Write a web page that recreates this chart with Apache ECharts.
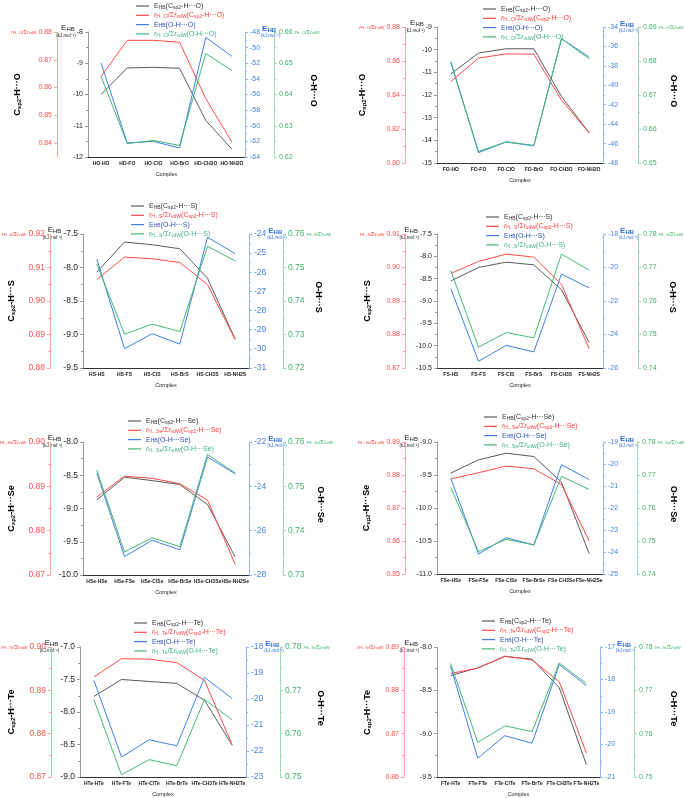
<!DOCTYPE html>
<html><head><meta charset="utf-8">
<script src="https://cdn.jsdelivr.net/npm/echarts@6/dist/echarts.min.js"></script>
<style>html,body{margin:0;padding:0;background:#fff}#c{width:685px;height:798px}</style>
</head><body><div id="c"></div>
<script>
// ---------------- DATA ----------------
const catHO = ['HO-HO','HO-FO','HO-ClO','HO-BrO','HO-CH3O','HO-NH2O'];
const ehbC_HO = [-10.00,-9.15,-9.13,-9.16,-10.83,-11.75];
const rC_HO = [0.8640,0.8770,0.8770,0.8763,0.8560,0.8404];
const ehbO_HO = [-51.97,-62.20,-62.00,-62.85,-48.70,-51.10];
const rO_HO = [0.6458,0.6243,0.6253,0.6237,0.6531,0.6477];
const axesHO = [[-12,-8,1],[0.835,0.88,0.01],[-64,-48,2],[0.62,0.66,0.01]];

const catFO = ['FO-HO','FO-FO','FO-ClO','FO-BrO','FO-CH3O','FO-NH2O'];
const ehbC_FO = [-11.07,-10.15,-9.96,-9.96,-12.07,-13.67];
const rC_FO = [0.8479,0.8617,0.8642,0.8640,0.8370,0.8177];
const ehbO_FO = [-37.55,-46.93,-45.83,-46.24,-35.20,-37.10];
const rO_FO = [0.6794,0.6534,0.6562,0.6552,0.6866,0.6806];
const axesFO = [[-15,-9,1],[0.80,0.88,0.02],[-48,-34,2],[0.65,0.69,0.01]];

const catHS = ['HS-HS','HS-FS','HS-ClS','HS-BrS','HS-CH3S','HS-NH2S'];
const ehbC_HS = [-8.07,-7.62,-7.66,-7.72,-8.16,-9.07];
const rC_HS = [0.9064,0.9131,0.9126,0.9115,0.9049,0.8885];
const ehbO_HS = [-25.31,-29.99,-29.21,-29.75,-24.17,-25.03];
const rO_HS = [0.7510,0.7301,0.7331,0.7309,0.7563,0.7520];
const axesHS = [[-9.5,-7.5,0.5],[0.88,0.92,0.01],[-31,-24,1],[0.72,0.76,0.01]];

const catFS = ['FS-HS','FS-FS','FS-ClS','FS-BrS','FS-CH3S','FS-NH2S'];
const ehbC_FS = [-8.55,-8.25,-8.13,-8.19,-8.75,-9.93];
const rC_FS = [0.8982,0.9018,0.9040,0.9031,0.8949,0.8757];
const ehbO_FS = [-21.26,-25.60,-24.65,-25.04,-20.39,-21.22];
const rO_FS = [0.7691,0.7462,0.7506,0.7490,0.7740,0.7692];
const axesFS = [[-10.5,-7.5,0.5],[0.87,0.91,0.01],[-26,-18,2],[0.74,0.78,0.01]];

const catHSe = ['HSe-HSe','HSe-FSe','HSe-ClSe','HSe-BrSe','HSe-CH3Se','HSe-NH2Se'];
const ehbC_HSe = [-8.87,-8.53,-8.58,-8.64,-8.94,-9.73];
const rC_HSe = [0.8876,0.8923,0.8918,0.8906,0.8869,0.8724];
const ehbO_HSe = [-23.40,-27.17,-26.43,-26.87,-22.68,-23.43];
const rO_HSe = [0.7536,0.7352,0.7384,0.7364,0.7572,0.7530];
const axesHSe = [[-10,-8,0.5],[0.87,0.90,0.01],[-28,-22,2],[0.73,0.76,0.01]];

const catFSe = ['FSe-HSe','FSe-FSe','FSe-ClSe','FSe-BrSe','FSe-CH3Se','FSe-NH2Se'];
const ehbC_FSe = [-9.47,-9.27,-9.17,-9.22,-9.61,-10.69];
const rC_FSe = [0.8788,0.8807,0.8827,0.8819,0.8771,0.8600];
const ehbO_FSe = [-20.66,-24.09,-23.35,-23.68,-20.03,-20.71];
const rO_FSe = [0.7662,0.7468,0.7505,0.7488,0.7696,0.7656];
const axesFSe = [[-11,-9,0.5],[0.85,0.89,0.01],[-25,-19,1],[0.74,0.78,0.01]];

const catHTe = ['HTe-HTe','HTe-FTe','HTe-ClTe','HTe-BrTe','HTe-CH3Te','HTe-NH2Te'];
const ehbC_HTe = [-7.76,-7.50,-7.53,-7.56,-7.82,-8.51];
const rC_HTe = [0.8931,0.8973,0.8972,0.8964,0.8923,0.8774];
const ehbO_HTe = [-19.28,-22.23,-21.57,-21.80,-19.17,-19.98];
const rO_HTe = [0.7679,0.7505,0.7540,0.7526,0.7679,0.7632];
const axesHTe = [[-9,-7,0.5],[0.87,0.90,0.01],[-23,-18,1],[0.75,0.78,0.01]];

const catFTe = ['FTe-HTe','FTe-FTe','FTe-ClTe','FTe-BrTe','FTe-CH3Te','FTe-NH2Te'];
const ehbC_FTe = [-8.33,-8.24,-8.11,-8.14,-8.47,-9.36];
const rC_FTe = [0.8839,0.8851,0.8879,0.8870,0.8820,0.8655];
const ehbO_FTe = [-17.59,-20.42,-19.73,-19.96,-17.54,-18.19];
const rO_FTe = [0.7762,0.7580,0.7618,0.7605,0.7763,0.7716];
const axesFTe = [[-9.5,-8,0.5],[0.86,0.89,0.01],[-21,-17,1],[0.75,0.78,0.01]];

// ---------------- PANELS ----------------
const panels = [
  {X:'O',  cats:catHO,  s:[ehbC_HO, rC_HO, ehbO_HO, rO_HO],  axes:axesHO},
  {X:'O',  cats:catFO,  s:[ehbC_FO, rC_FO, ehbO_FO, rO_FO],  axes:axesFO},
  {X:'S',  cats:catHS,  s:[ehbC_HS, rC_HS, ehbO_HS, rO_HS],  axes:axesHS},
  {X:'S',  cats:catFS,  s:[ehbC_FS, rC_FS, ehbO_FS, rO_FS],  axes:axesFS},
  {X:'Se', cats:catHSe, s:[ehbC_HSe, rC_HSe, ehbO_HSe, rO_HSe], axes:axesHSe},
  {X:'Se', cats:catFSe, s:[ehbC_FSe, rC_FSe, ehbO_FSe, rO_FSe], axes:axesFSe},
  {X:'Te', cats:catHTe, s:[ehbC_HTe, rC_HTe, ehbO_HTe, rO_HTe], axes:axesHTe},
  {X:'Te', cats:catFTe, s:[ehbC_FTe, rC_FTe, ehbO_FTe, rO_FTe], axes:axesFTe}
];
// layout (pixels)
const layout = [
  {bx:88,  ux:245, top:32,  bot:157, rx:57,  gx:274, fs:7,   lx:18,  rtx:313, legX:136, legY:2},
  {bx:437, ux:603, top:27,  bot:163, rx:405, gx:638, fs:7,   lx:363, rtx:673, legX:483, legY:5},
  {bx:83,  ux:249, top:234, bot:368, rx:50,  gx:283, fs:8.5, lx:12,  rtx:318, legX:131, legY:202},
  {bx:437, ux:603, top:234, bot:368, rx:405, gx:638, fs:7,   lx:368, rtx:672, legX:486, legY:213},
  {bx:83,  ux:249, top:442, bot:575, rx:50,  gx:283, fs:8.5, lx:12,  rtx:320, legX:128, legY:417},
  {bx:437, ux:603, top:442, bot:574, rx:405, gx:637, fs:7,   lx:367, rtx:673, legX:484, legY:413},
  {bx:80,  ux:246, top:647, bot:777, rx:51,  gx:280, fs:8.5, lx:12,  rtx:320, legX:134, legY:619},
  {bx:437, ux:600, top:647, bot:778, rx:404, gx:634, fs:7,   lx:368, rtx:673, legX:482, legY:617}
];

const FONT = '"Liberation Sans", Arial, sans-serif';
const C_BLACK = '#5a5a5a', C_RED = '#ff4a4a', C_BLUE = '#3f7fe8', C_GREEN = '#45b874';
const AX = {
  black:{line:'#9a9a9a', lab:'#222'},
  red:{line:'#ffa0a0', lab:'#ff5050'},
  blue:{line:'#93b9f2', lab:'#4a80e0'},
  green:{line:'#9ed9b6', lab:'#3fb06c'}
};
const MARGIN = 5;
const ctx = document.createElement('canvas').getContext('2d');
function tw(t, fs, bold){ ctx.font = (bold?'bold ':'') + fs + 'px ' + FONT; return ctx.measureText(t).width; }
function ticks(min, max, step){
  const out = []; const n0 = Math.ceil(min/step - 1e-9), n1 = Math.floor(max/step + 1e-9);
  for (let n = n0; n <= n1; n++) out.push(+(n*step).toFixed(6));
  return out;
}
function decOf(step){ return step >= 1 ? 0 : (step >= 0.1 ? 1 : 2); }

const grids = [], xAxes = [], yAxes = [], series = [], legends = [], graphics = [];
const rich = {
  s:{fontSize:5, verticalAlign:'bottom', lineHeight:8, padding:[3,0,0,0]},
  i:{fontStyle:'italic', fontSize:7, lineHeight:8}
};

panels.forEach((p, i) => {
  const L = layout[i];
  grids.push({left:L.bx, top:L.top, width:L.ux - L.bx, height:L.bot - L.top, containLabel:false});
  xAxes.push({type:'category', gridIndex:i, data:p.cats, boundaryGap:true,
    axisLine:{lineStyle:{color:'#333', width:1}},
    axisTick:{alignWithLabel:true, length:2, lineStyle:{color:'#333'}},
    axisLabel:{interval:0, fontSize:5, fontWeight:'bold', color:'#222', margin:4, fontFamily:FONT},
    name:'Complex', nameLocation:'middle', nameGap:14,
    nameTextStyle:{fontSize:5.5, color:'#222', fontFamily:FONT},
    splitLine:{show:false}});
  const defs = [
    {pos:'left', off:0, key:'black', ax:p.axes[0]},
    {pos:'left', off:L.bx - L.rx, key:'red', ax:p.axes[1]},
    {pos:'right', off:0, key:'blue', ax:p.axes[2]},
    {pos:'right', off:L.gx - L.ux, key:'green', ax:p.axes[3]}
  ];
  defs.forEach(d => {
    const [min, max, step] = d.ax;
    const tv = ticks(min, max, step);
    const clean = Math.abs(min/step - Math.round(min/step)) < 1e-6;
    const dec = decOf(step);
    const c = AX[d.key];
    const y = {type:'value', gridIndex:i, position:d.pos, offset:d.off, min, max,
      axisLine:{show:true, onZero:false, lineStyle:{color:c.line, width:1}},
      axisTick:{show:true, inside:false, length:3, lineStyle:{color:c.line}, customValues:tv},
      axisLabel:{fontSize:L.fs, color:c.lab, margin:MARGIN, fontFamily:FONT, customValues:tv,
        formatter:v => (+v).toFixed(dec)},
      splitLine:{show:false}};
    if (clean) {
      y.interval = step;
      y.minorTick = {show:true, splitNumber:2, length:2, lineStyle:{color:c.line}};
    }
    yAxes.push(y);
  });
  const X = p.X;
  const names = [
    `E{s|HB}(C{s|sp2}-H···${X})`,
    `{i|r}{s|H...${X}}/Σ{i|r}{s|vdW}(C{s|sp2}-H···${X})`,
    `E{s|HB}(O-H···${X})`,
    `{i|r}{s|H...${X}}/Σ{i|r}{s|vdW}(O-H···${X})`
  ];
  const cols = [C_BLACK, C_RED, C_BLUE, C_GREEN];
  const tcols = ['#333', '#ff3b3b', '#2f4fb8', '#3db08a'];
  names.forEach((n, k) => {
    series.push({type:'line', name:n, xAxisIndex:i, yAxisIndex:4*i + k, data:p.s[k],
      symbol:'none', showSymbol:false, smooth:false, lineStyle:{width:1, color:cols[k]}, itemStyle:{color:cols[k]},
      animation:false});
  });
  legends.push({orient:'vertical', left:L.legX, top:L.legY, itemWidth:13, itemHeight:1.2, itemGap:1.3,
    padding:0, selectedMode:false, formatter:n => n, icon:'rect',
    textStyle:{fontSize:7, fontFamily:FONT, lineHeight:8, rich},
    data:names.map((n, k) => ({name:n, icon:'rect', textStyle:{color:tcols[k]}}))});

  // axis titles
  const topLabB = (+p.axes[0][1]).toFixed(decOf(p.axes[0][2]));
  const topLabR = (+p.axes[1][1]).toFixed(2);
  const topLabU = (+p.axes[2][1]).toFixed(0);
  const topLabG = (+p.axes[3][1]).toFixed(2);
  const wB = tw(topLabB, L.fs), wR = tw(topLabR, L.fs), wU = tw(topLabU, L.fs), wG = tw(topLabG, L.fs);
  const nameRich = {s:{fontSize:3.8, verticalAlign:'bottom', padding:[2,0,0,0]}, i:{fontStyle:'italic', fontSize:5.5}};
  // black E_HB
  graphics.push({type:'text', x:L.bx - MARGIN - 2 - wB, y:L.top - 4,
    style:{text:'E{s|HB}', fill:'#222', font:'8px ' + FONT, align:'right', verticalAlign:'middle', rich:{s:{fontSize:6, verticalAlign:'bottom', padding:[2,0,0,0]}}}});
  graphics.push({type:'text', x:L.bx - MARGIN - 1 - wB, y:L.top + 4,
    style:{text:'(kJ.mol⁻¹)', fill:'#222', font:'4.5px ' + FONT, align:'right', verticalAlign:'middle'}});
  // blue E_HB
  graphics.push({type:'text', x:L.ux + MARGIN + 2 + wU, y:L.top - 3,
    style:{text:'E{s|HB}', fill:'#2f6fd8', font:'bold 8px ' + FONT, align:'left', verticalAlign:'middle', rich:{s:{fontSize:6, fontWeight:'bold', verticalAlign:'bottom', padding:[2,0,0,0]}}}});
  graphics.push({type:'text', x:L.ux + MARGIN + 1 + wU, y:L.top + 4,
    style:{text:'(kJ.mol⁻¹)', fill:'#2f6fd8', font:'4.5px ' + FONT, align:'left', verticalAlign:'middle'}});
  // red ratio name
  graphics.push({type:'text', x:L.rx - MARGIN - 2 - wR, y:L.top,
    style:{text:`{i|r}{s|H...${X}}/Σ{i|r}{s|vdW}`, fill:'#ff4040', font:'5.5px ' + FONT, align:'right', verticalAlign:'middle', rich:nameRich}});
  // green ratio name
  graphics.push({type:'text', x:L.gx + MARGIN + 2 + wG, y:L.top,
    style:{text:`{i|r}{s|H...${X}}/Σ{i|r}{s|vdW}`, fill:'#3fb06c', font:'5.5px ' + FONT, align:'left', verticalAlign:'middle', rich:nameRich}});
  // vertical labels
  const mid = (L.top + L.bot) / 2;
  graphics.push({type:'text', x:L.lx, y:mid, rotation:Math.PI/2,
    style:{text:`C{s|sp2}-H···${X}`, fill:'#000', font:'bold 9px ' + FONT, align:'center', verticalAlign:'middle',
      rich:{s:{fontSize:6, fontWeight:'bold', verticalAlign:'bottom', padding:[3,0,0,0]}}}});
  graphics.push({type:'text', x:L.rtx, y:mid - 4, rotation:-Math.PI/2,
    style:{text:`O-H···${X}`, fill:'#000', font:'bold 9px ' + FONT, align:'center', verticalAlign:'middle'}});
});

const chart = echarts.init(document.getElementById('c'), null, {renderer:'canvas'});
chart.setOption({
  animation:false,
  backgroundColor:'#fff',
  textStyle:{fontFamily:FONT},
  grid:grids, xAxis:xAxes, yAxis:yAxes, series, legend:legends, graphic:graphics
});
</script>
</body></html>
